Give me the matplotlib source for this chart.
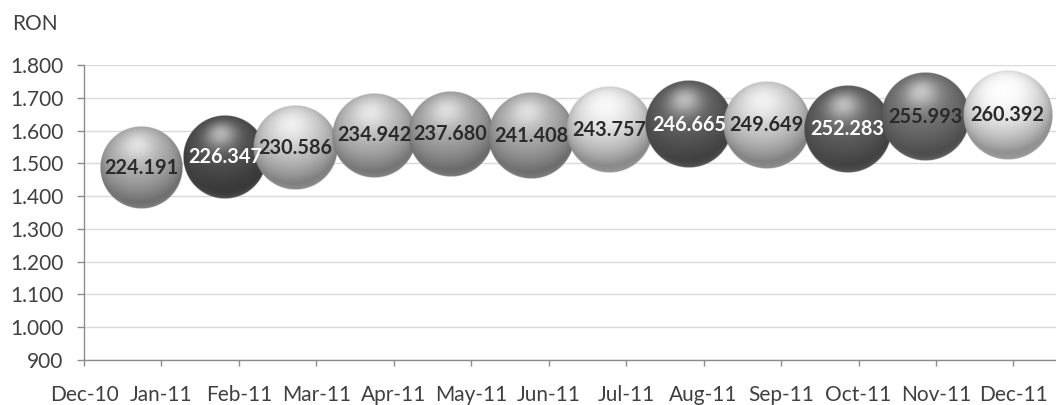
import numpy as np
import matplotlib.pyplot as plt
import matplotlib.ticker as ticker
from matplotlib.colors import to_rgb

plt.rc('font', family=['Lato', 'DejaVu Sans'])

# tick labels along the month axis
months = ['Dec-10', 'Jan-11', 'Feb-11', 'Mar-11', 'Apr-11', 'May-11', 'Jun-11',
          'Jul-11', 'Aug-11', 'Sep-11', 'Oct-11', 'Nov-11', 'Dec-11']
# bubble position in months after Dec-10, average value (RON) and bubble size
bubble_x = [0.74, 1.82, 2.73, 3.75, 4.73, 5.77, 6.78, 7.81, 8.81, 9.86, 10.86, 11.92]
bubble_y = [1486, 1519, 1547, 1586, 1589, 1583, 1602, 1617, 1617, 1605, 1641, 1647]
bubble_size = [224191, 226347, 230586, 234942, 237680, 241408,
               243757, 246665, 249649, 252283, 255993, 260392]
bubble_color = ['#a9a9a9', '#4e4e4e', '#c4c4c4', '#b4b4b4', '#a2a2a2', '#a6a6a6',
                '#d6d6d6', '#5c5c5c', '#c8c8c8', '#5e5e5e', '#707070', '#e2e2e2']
label_color = ['#2a2a2a', 'white', '#2a2a2a', '#2a2a2a', '#2a2a2a', '#2a2a2a',
               '#2a2a2a', 'white', '#2a2a2a', 'white', '#2a2a2a', '#2a2a2a']

W, H = 1056, 405
fig = plt.figure(figsize=(W / 100, H / 100), dpi=100)
ax_l, ax_b, ax_w, ax_h = 84 / W, 45 / H, 1 - 84 / W, 295 / H
ax = fig.add_axes([ax_l, ax_b, ax_w, ax_h])
xmin, xmax = 0, 12.55
ymin, ymax = 900, 1800
px_x = ax_w * W / (xmax - xmin)
px_y = ax_h * H / (ymax - ymin)


def sphere(color, n=220):
    # shaded ball: diffuse light from upper front plus a soft highlight
    u, v = np.meshgrid(np.linspace(-1, 1, n), np.linspace(-1, 1, n))
    r = np.sqrt(u ** 2 + v ** 2)
    nz = np.sqrt(np.clip(1 - r ** 2, 0, 1))
    L = np.array([-0.1, 0.55, 0.83])
    L = L / np.linalg.norm(L)
    d = np.clip(u * L[0] + v * L[1] + nz * L[2], 0, 1)
    base = np.array(to_rgb(color))
    shade = 0.62 + 0.5 * d
    rgb = base[None, None, :] * shade[..., None]
    spec = 0.55 * d ** 14
    rgb = rgb + (1 - rgb) * spec[..., None]
    # faint reflected light on the lower rim
    rim = np.clip(-v, 0, 1) * (1 - nz) ** 2 * 0.25
    rgb = rgb + (1 - rgb) * rim[..., None]
    rgb = np.clip(rgb, 0, 1)
    alpha = np.clip((1 - r) * n / 3, 0, 1)
    return np.dstack([rgb, alpha])


for i, (x, y, s) in enumerate(zip(bubble_x, bubble_y, bubble_size)):
    r_px = 2.77 * np.sqrt(s / 1000)
    rx, ry = r_px / px_x, r_px / px_y
    ax.imshow(sphere(bubble_color[i]), origin='lower', aspect='auto',
              extent=(x - rx, x + rx, y - ry, y + ry), zorder=3 + i,
              interpolation='antialiased')

for i, (x, y, s) in enumerate(zip(bubble_x, bubble_y, bubble_size)):
    ax.text(x, y, '{:,}'.format(s).replace(',', '.'), ha='center', va='center',
            fontsize=14.3, fontweight='bold', color=label_color[i], zorder=30)

ax.set_xlim(xmin, xmax)
ax.set_ylim(ymin, ymax)
ax.set_xticks(range(len(months)))
ax.set_xticklabels(months)
ax.yaxis.set_major_locator(ticker.MultipleLocator(100))
ax.yaxis.set_major_formatter(ticker.FuncFormatter(
    lambda v, pos: '{:,.0f}'.format(v).replace(',', '.')))

ax.set_axisbelow(True)
ax.yaxis.grid(True, color='#d9d9d9', linewidth=1)
for side in ['top', 'right']:
    ax.spines[side].set_visible(False)
for side in ['left', 'bottom']:
    ax.spines[side].set_color('#8c8c8c')
    ax.spines[side].set_linewidth(1)
ax.tick_params(axis='y', length=5, width=1, color='#8c8c8c', pad=10,
               labelsize=15, labelcolor='#404040')
ax.tick_params(axis='x', length=4, width=1, color='#8c8c8c', pad=14,
               labelsize=15, labelcolor='#404040')

fig.text(12 / W, 1 - 24 / H, 'RON', ha='left', va='center', fontsize=15,
         color='#404040')

fig.savefig('out.png', dpi=100)
